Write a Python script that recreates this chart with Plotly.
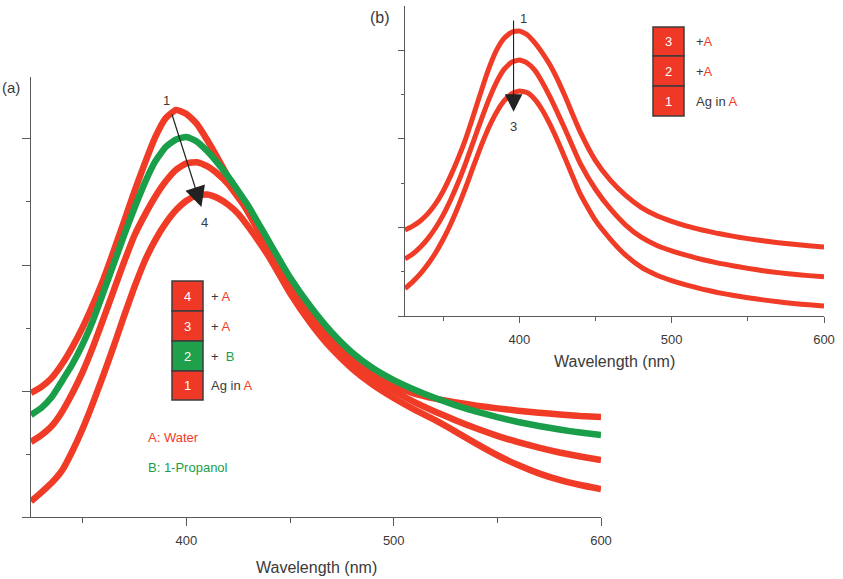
import plotly.graph_objects as go

W, H = 843, 579
# the page is photographed slightly narrower than the layout width; positions are
# given in reference pixels and mapped with this effective width
W_EFF = 832

# ---------------- data ----------------
wavelength = [325, 330, 335, 340, 345, 350, 355, 360, 365, 370, 375, 380, 385, 390, 395,
              400, 405, 410, 415, 420, 425, 430, 440, 450, 460, 470, 480, 490, 500, 510,
              520, 530, 540, 550, 560, 570, 580, 590, 600]

# Panel (a): spectra (arbitrary absorbance units)
a_curve1_ag_water = [0.492, 0.516, 0.552, 0.607, 0.675, 0.754, 0.845, 0.945, 1.058, 1.175,
                     1.294, 1.405, 1.508, 1.583, 1.615, 1.599, 1.560, 1.496, 1.425, 1.350,
                     1.278, 1.205, 1.060, 0.925, 0.808, 0.705, 0.625, 0.563, 0.520, 0.490,
                     0.470, 0.455, 0.442, 0.431, 0.422, 0.414, 0.407, 0.401, 0.397]
a_curve2_propanol = [0.405, 0.433, 0.476, 0.540, 0.607, 0.687, 0.782, 0.893, 1.006, 1.120,
                     1.228, 1.328, 1.412, 1.468, 1.498, 1.508, 1.490, 1.452, 1.405, 1.352,
                     1.293, 1.232, 1.090, 0.950, 0.833, 0.733, 0.652, 0.590, 0.543, 0.505,
                     0.472, 0.443, 0.418, 0.396, 0.377, 0.361, 0.347, 0.335, 0.325]
a_curve3_water = [0.298, 0.325, 0.361, 0.418, 0.492, 0.577, 0.677, 0.788, 0.901, 1.014,
                  1.119, 1.200, 1.272, 1.332, 1.378, 1.403, 1.408, 1.392, 1.362, 1.322,
                  1.268, 1.210, 1.062, 0.927, 0.806, 0.700, 0.616, 0.550, 0.500, 0.456,
                  0.418, 0.383, 0.351, 0.322, 0.297, 0.275, 0.256, 0.240, 0.226]
a_curve4_water = [0.062, 0.098, 0.136, 0.185, 0.262, 0.352, 0.455, 0.565, 0.680, 0.800,
                  0.915, 1.018, 1.100, 1.166, 1.218, 1.255, 1.276, 1.280, 1.266, 1.240,
                  1.203, 1.150, 1.030, 0.888, 0.768, 0.668, 0.588, 0.524, 0.472, 0.426,
                  0.384, 0.338, 0.290, 0.245, 0.206, 0.173, 0.147, 0.127, 0.111]

# Panel (b)
b_curve1_ag_water = [0.486, 0.508, 0.537, 0.578, 0.633, 0.705, 0.793, 0.893, 1.005, 1.135,
                     1.270, 1.397, 1.500, 1.568, 1.603, 1.610, 1.590, 1.545, 1.488, 1.420,
                     1.338, 1.242, 1.040, 0.878, 0.765, 0.680, 0.614, 0.568, 0.535, 0.508,
                     0.486, 0.467, 0.451, 0.437, 0.425, 0.414, 0.405, 0.397, 0.390]
b_curve2_water = [0.322, 0.350, 0.388, 0.437, 0.497, 0.570, 0.657, 0.757, 0.868, 0.988,
                  1.108, 1.222, 1.320, 1.393, 1.434, 1.446, 1.430, 1.390, 1.322, 1.240,
                  1.150, 1.056, 0.862, 0.716, 0.603, 0.512, 0.445, 0.400, 0.368, 0.342,
                  0.319, 0.300, 0.284, 0.269, 0.256, 0.245, 0.236, 0.228, 0.221]
b_curve3_water = [0.155, 0.193, 0.238, 0.292, 0.356, 0.432, 0.520, 0.620, 0.730, 0.848,
                  0.962, 1.065, 1.150, 1.215, 1.255, 1.271, 1.262, 1.226, 1.165, 1.085,
                  0.993, 0.893, 0.690, 0.540, 0.432, 0.342, 0.276, 0.232, 0.200, 0.174,
                  0.152, 0.133, 0.117, 0.103, 0.091, 0.080, 0.071, 0.063, 0.056]

x_ticks = [400, 500, 600]
x_minor = [350, 450, 550]
y_ticks = [0, 0.5, 1.0, 1.5]
y_minor = [0.25, 0.75, 1.25]

legend_a = [("4", "+ ", "A"), ("3", "+ ", "A"), ("2", "+ \u00a0", "B"), ("1", "Ag in ", "A")]
legend_b = [("3", "+", "A"), ("2", "+", "A"), ("1", "Ag in ", "A")]

# ---------------- styling ----------------
RED = "#F03B27"
RED_BOX = "#EF3826"
GREEN = "#1A9E4A"
GREEN_BOX = "#1FA04A"
AXIS = "#5a5a5a"
TXT = "#3a3a3a"
FONT = "Liberation Sans, Arial, Helvetica, sans-serif"


def px(x):
    return x / W_EFF


def py(y):
    return 1 - y / H


fig = go.Figure()

# panel (a)
for vals, col in [(a_curve1_ag_water, RED), (a_curve3_water, RED), (a_curve4_water, RED),
                  (a_curve2_propanol, GREEN)]:
    fig.add_trace(go.Scatter(x=wavelength, y=vals, mode="lines",
                             line=dict(color=col, width=6.5, shape="spline", smoothing=0.5),
                             xaxis="x", yaxis="y", showlegend=False, hoverinfo="skip"))

# panel (b)
for vals in [b_curve1_ag_water, b_curve2_water, b_curve3_water]:
    fig.add_trace(go.Scatter(x=wavelength, y=vals, mode="lines",
                             line=dict(color=RED, width=5, shape="spline", smoothing=0.5),
                             xaxis="x2", yaxis="y2", showlegend=False, hoverinfo="skip"))

common_x = dict(range=[325, 600], showline=True, linecolor=AXIS, linewidth=1,
                ticks="outside", tickcolor=AXIS, tickwidth=1,
                tickvals=x_ticks, ticktext=[str(v) for v in x_ticks],
                tickfont=dict(size=13, color=TXT, family=FONT),
                showgrid=False, zeroline=False)
common_y = dict(showline=True, linecolor=AXIS, linewidth=1, ticks="outside",
                tickcolor=AXIS, tickwidth=1, tickvals=y_ticks, showticklabels=False,
                showgrid=False, zeroline=False)

fig.update_layout(
    width=W, height=H,
    margin=dict(l=0, r=0, t=0, b=0),
    paper_bgcolor="white", plot_bgcolor="rgba(0,0,0,0)",
    font=dict(family=FONT, color=TXT, size=13),
    xaxis=dict(common_x, domain=[px(31), px(601)], anchor="y", ticklen=8,
               ticklabelstandoff=3,
               minor=dict(tickvals=x_minor, ticks="outside", ticklen=5,
                          tickcolor=AXIS, showgrid=False)),
    yaxis=dict(common_y, domain=[py(517), py(77)], range=[0, 1.746], anchor="x", ticklen=8,
               minor=dict(tickvals=y_minor, ticks="outside", ticklen=4,
                          tickcolor=AXIS, showgrid=False)),
    xaxis2=dict(common_x, domain=[px(405), px(824)], anchor="y2", ticklen=6,
                ticklabelstandoff=5,
                minor=dict(tickvals=x_minor, ticks="outside", ticklen=4,
                           tickcolor=AXIS, showgrid=False)),
    yaxis2=dict(common_y, domain=[py(316), py(6)], range=[0, 1.751], anchor="x2", ticklen=6,
                minor=dict(tickvals=y_minor, ticks="outside", ticklen=3,
                           tickcolor=AXIS, showgrid=False)),
)

shapes = []
annotations = []


def add_text(x, y, text, size=13, color=TXT, xanchor="center", xref="paper", yref="paper"):
    annotations.append(dict(x=x, y=y, xref=xref, yref=yref, text=text, showarrow=False,
                            xanchor=xanchor, yanchor="middle",
                            font=dict(size=size, color=color, family=FONT)))


# axis titles
add_text(px(316), py(567), "Wavelength (nm)", size=16)
add_text(px(614), py(361), "Wavelength (nm)", size=16)

# panel labels
add_text(px(0), py(88), "(a)", size=15, xanchor="left")
add_text(px(392), py(17), "(b)", size=16, xanchor="right")

# legend boxes panel (a)
rows_a = [(281, 311), (311, 341), (341, 371), (371, 400)]
for (num, pre, solv), (y0, y1) in zip(legend_a, rows_a):
    fill = GREEN_BOX if solv == "B" else RED_BOX
    scol = GREEN if solv == "B" else RED
    shapes.append(dict(type="rect", xref="paper", yref="paper", x0=px(172), x1=px(203),
                       y0=py(y1), y1=py(y0), fillcolor=fill,
                       line=dict(color="#3c3c3c", width=1.5), layer="above"))
    add_text(px(187.5), py((y0 + y1) / 2), num, size=13, color="white")
    add_text(px(209), py((y0 + y1) / 2),
             f'{pre}<span style="color:{scol}">{solv}</span>', size=13, xanchor="left")

add_text(px(146), py(437), "A: Water", size=13, color=RED, xanchor="left")
add_text(px(146), py(467), "B: 1-Propanol", size=13, color=GREEN, xanchor="left")

# legend boxes panel (b)
rows_b = [(27, 56), (56, 86), (86, 116)]
for (num, pre, solv), (y0, y1) in zip(legend_b, rows_b):
    shapes.append(dict(type="rect", xref="paper", yref="paper", x0=px(653), x1=px(684),
                       y0=py(y1), y1=py(y0), fillcolor=RED_BOX,
                       line=dict(color="#3c3c3c", width=1.5), layer="above"))
    add_text(px(668.5), py((y0 + y1) / 2), num, size=13, color="white")
    add_text(px(694), py((y0 + y1) / 2),
             f'{pre}<span style="color:{RED}">{solv}</span>', size=13, xanchor="left")

# arrows
annotations.append(dict(x=407.2, y=1.230, ax=392.8, ay=1.603, xref="x", yref="y",
                        axref="x", ayref="y", text="", showarrow=True, arrowhead=2,
                        arrowsize=3.4, arrowwidth=1.2, arrowcolor="#222"))
add_text(390.4, 1.651, "1", size=13, xref="x", yref="y")
add_text(408.7, 1.167, "4", size=13, xref="x", yref="y")

annotations.append(dict(x=396.25, y=1.153, ax=396.25, ay=1.678, xref="x2", yref="y2",
                        axref="x2", ayref="y2", text="", showarrow=True, arrowhead=2,
                        arrowsize=3.2, arrowwidth=1.1, arrowcolor="#222"))
add_text(402.8, 1.678, "1", size=13, xref="x2", yref="y2")
add_text(396.25, 1.073, "3", size=13, xref="x2", yref="y2")

fig.update_layout(shapes=shapes, annotations=annotations)

fig.write_html("out.html")
